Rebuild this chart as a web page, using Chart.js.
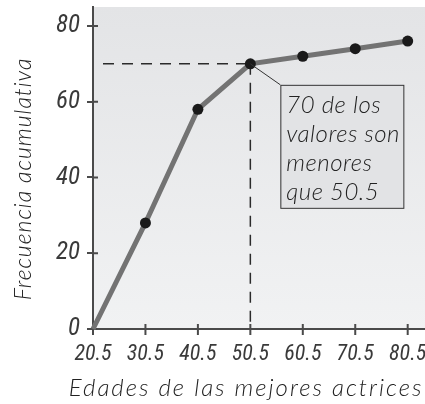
<!DOCTYPE html>
<html>
<head>
<meta charset="utf-8">
<script src="https://cdn.jsdelivr.net/npm/chart.js@4/dist/chart.umd.min.js"></script>
<style>
  html, body { margin: 0; padding: 0; background: #fff; }
  #wrap { width: 425px; height: 404px; }
</style>
</head>
<body>
<div id="wrap"><canvas id="ojiva" width="425" height="404"></canvas></div>
<script>
// limites de clase (edades) y frecuencia acumulada
const edades = [20.5, 30.5, 40.5, 50.5, 60.5, 70.5, 80.5];
const frecuenciaAcum = [0, 28, 58, 70, 72, 74, 76];
const marcaPunto = [0, 1, 1, 1, 1, 1, 1];
const ticksY = [0, 20, 40, 60, 80];
const ticksX = edades;
const nota = ['70 de los', 'valores son', 'menores', 'que 50.5'];
const notaEdad = 50.5;
const notaFrec = 70;
const tituloX = 'Edades de las mejores actrices';
const tituloY = 'Frecuencia acumulativa';

const FUENTE = 'Lato, "DejaVu Sans", sans-serif';
const FUENTE_NUM = '"Liberation Sans Narrow", "Roboto Condensed", Lato, sans-serif';
const ejeColor = '#4a4a4a';

// fondo, lineas punteadas, marcas, titulos y recuadro
const extras = {
  id: 'extras',
  beforeDraw(chart) {
    const { ctx, chartArea: a } = chart;
    const g = ctx.createLinearGradient(0, a.top, 0, a.bottom);
    g.addColorStop(0, '#e3e4e6');
    g.addColorStop(1, '#f1f2f3');
    ctx.save();
    ctx.fillStyle = g;
    ctx.fillRect(a.left, a.top, a.right - a.left, a.bottom - a.top);
    ctx.restore();
  },
  beforeDatasetsDraw(chart) {
    const { ctx, chartArea: a, scales: { x, y } } = chart;
    const px = x.getPixelForValue(notaEdad);
    const py = y.getPixelForValue(notaFrec);
    ctx.save();
    ctx.strokeStyle = '#2b2b2b';
    ctx.lineWidth = 1.5;
    ctx.setLineDash([11, 8]);
    ctx.beginPath();
    ctx.moveTo(a.left + 10, py);
    ctx.lineTo(px, py);
    ctx.moveTo(px, py);
    ctx.lineTo(px, a.bottom);
    ctx.stroke();
    ctx.setLineDash([]);
    // marcas que cruzan los ejes
    ctx.strokeStyle = ejeColor;
    ctx.lineWidth = 2;
    ctx.beginPath();
    ticksY.forEach(v => {
      const yy = y.getPixelForValue(v);
      ctx.moveTo(a.left, yy);
      ctx.lineTo(a.left + 5, yy);
    });
    ticksX.forEach(v => {
      const xx = x.getPixelForValue(v);
      ctx.moveTo(xx, a.bottom + 6);
      ctx.lineTo(xx, a.bottom - 5);
    });
    ctx.stroke();
    ctx.restore();
  },
  afterDatasetsDraw(chart) {
    const { ctx, scales: { x, y } } = chart;
    const px = x.getPixelForValue(notaEdad);
    const py = y.getPixelForValue(notaFrec);
    const bx = px + 30, by = py + 21, bw = 123, bh = 123;
    ctx.save();
    ctx.strokeStyle = '#333';
    ctx.lineWidth = 1;
    ctx.beginPath();
    ctx.moveTo(px, py);
    ctx.lineTo(bx, by);
    ctx.stroke();
    ctx.fillStyle = '#e2e3e5';
    ctx.fillRect(bx, by, bw, bh);
    ctx.strokeRect(bx + 0.5, by + 0.5, bw, bh);
    ctx.fillStyle = '#222';
    ctx.font = 'italic 300 24px ' + FUENTE;
    ctx.letterSpacing = '0.5px';
    ctx.textBaseline = 'middle';
    ctx.textAlign = 'left';
    nota.forEach((t, i) => ctx.fillText(t, bx + 6, by + 20 + i * 29));

    // titulos de los ejes
    ctx.font = 'italic 300 24px ' + FUENTE;
    ctx.letterSpacing = '2px';
    ctx.textAlign = 'center';
    ctx.fillText(tituloX, 246, 388);
    ctx.translate(24, 179);
    ctx.rotate(-Math.PI / 2);
    ctx.font = 'italic 300 23px ' + FUENTE;
    ctx.letterSpacing = '1px';
    ctx.fillText(tituloY, 0, 0);
    ctx.restore();
  }
};

new Chart(document.getElementById('ojiva'), {
  type: 'line',
  data: {
    datasets: [{
      data: edades.map((e, i) => ({ x: e, y: frecuenciaAcum[i] })),
      borderColor: '#737373',
      borderWidth: 5,
      tension: 0,
      pointRadius: marcaPunto.map(m => m * 5.5),
      pointHoverRadius: 0,
      pointBackgroundColor: '#1a1a1a',
      pointBorderWidth: 0,
      clip: false
    }]
  },
  options: {
    responsive: false,
    animation: false,
    events: [],
    layout: { autoPadding: false, padding: { top: 7, right: 0, left: 0, bottom: 0 } },
    plugins: { legend: { display: false }, tooltip: { enabled: false } },
    scales: {
      x: {
        type: 'linear',
        min: 20.5,
        max: 83.8,
        afterBuildTicks: s => { s.ticks = ticksX.map(v => ({ value: v })); },
        afterFit: s => { s.height = 75; s.paddingLeft = 0; s.paddingRight = 0; },
        border: { color: ejeColor, width: 2 },
        grid: { drawOnChartArea: false, tickColor: 'rgba(0,0,0,0)', tickLength: 12 },
        ticks: {
          color: '#3a3a3a',
          padding: 0,
          maxRotation: 0,
          autoSkip: false,
          font: { family: FUENTE_NUM, size: 22, style: 'italic', weight: 'normal' },
          callback: v => v.toFixed(1)
        }
      },
      y: {
        min: 0,
        max: 85,
        afterBuildTicks: s => { s.ticks = ticksY.map(v => ({ value: v })); },
        afterFit: s => { s.width = 93; s.paddingTop = 0; s.paddingBottom = 0; },
        border: { color: ejeColor, width: 2 },
        grid: { drawOnChartArea: false, color: ejeColor, lineWidth: 2, tickLength: 6 },
        ticks: {
          color: '#3a3a3a',
          padding: 7,
          font: { family: FUENTE_NUM, size: 25, style: 'italic', weight: 'normal' }
        }
      }
    }
  },
  plugins: [extras]
});
</script>
</body>
</html>
